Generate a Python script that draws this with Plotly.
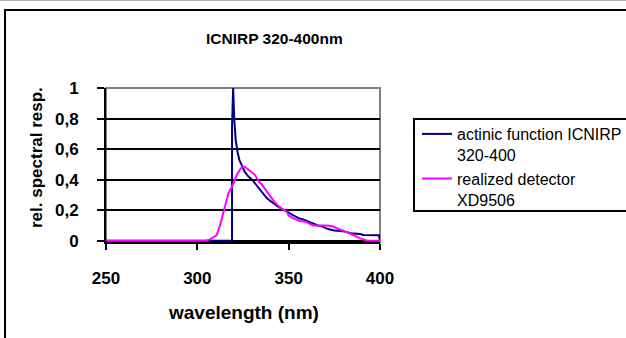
import plotly.graph_objects as go

# ---- data ----
wl_actinic = [250, 319.0, 319.0, 319.6, 320.2, 321.0, 322.0, 323.0, 324.5, 326.0, 328.0, 330.0,
              332.0, 334.0, 336.0, 338.0, 340.0, 342.0, 344.0, 346.0, 348.0, 350.0, 352.0,
              354.0, 356.0, 358.0, 360.0, 362.0, 364.0, 366.0, 368.0, 370.0, 372.0, 375.0,
              378.0, 381.0, 384.0, 387.0, 389.0, 391.0, 395.0, 399.4, 400.0]
resp_actinic = [0, 0, 0.75, 1.0, 0.80, 0.66, 0.58, 0.53, 0.49, 0.45, 0.42, 0.40,
                0.37, 0.34, 0.31, 0.28, 0.26, 0.24, 0.225, 0.21, 0.20, 0.185, 0.17,
                0.155, 0.145, 0.14, 0.13, 0.12, 0.105, 0.10, 0.095, 0.085, 0.075, 0.068,
                0.066, 0.06, 0.05, 0.048, 0.044, 0.038, 0.037, 0.037, 0.0]

wl_detector = [250, 305.0, 307.5, 310.6, 312.4, 313.8, 315.1, 317.0, 319.2, 321.5, 323.0,
               324.5, 326.0, 328.8, 331.6, 333.5, 335.2, 337.0, 338.8, 340.6, 342.5, 344.3,
               346.2, 348.9, 350.0, 352.0, 354.0, 356.0, 359.0, 361.0, 363.5, 367.0, 371.0,
               374.0, 375.5, 377.2, 380.0, 383.6, 386.3, 389.0, 391.8, 393.0, 400.0]
resp_detector = [0, 0, 0.012, 0.037, 0.10, 0.16, 0.23, 0.31, 0.36, 0.43, 0.46,
                 0.485, 0.485, 0.46, 0.43, 0.39, 0.37, 0.34, 0.31, 0.28, 0.25, 0.23,
                 0.21, 0.19, 0.165, 0.15, 0.14, 0.13, 0.125, 0.115, 0.10, 0.10, 0.10,
                 0.095, 0.085, 0.077, 0.066, 0.05, 0.033, 0.016, 0.005, 0.0, 0.0]

series_names = ["actinic function ICNIRP<br>320-400", "realized detector<br>XD9506"]
x_ticks = [250, 300, 350, 400]
y_ticks = [0, 0.2, 0.4, 0.6, 0.8, 1.0]
y_ticktext = ["0", "0,2", "0,4", "0,6", "0,8", "1"]
title_text = "ICNIRP 320-400nm"
x_title = "wavelength (nm)"
y_title = "rel. spectral resp."

# ---- layout geometry (pixels) ----
W, H = 626, 338
PL, PR, PT, PB = 106, 380, 88, 242  # plot area edges


def px(x):
    return (x - PL) / (PR - PL)


def py(y):
    return (PB - y) / (PB - PT)


FONT = "Liberation Sans, Arial, sans-serif"

fig = go.Figure()
fig.add_trace(go.Scatter(x=wl_actinic, y=resp_actinic, mode="lines", name=series_names[0],
                         line=dict(color="#000080", width=2)))
fig.add_trace(go.Scatter(x=wl_detector, y=resp_detector, mode="lines", name=series_names[1],
                         line=dict(color="#FF00FF", width=2)))

shapes = [
    # outer chart frame (extends beyond the window on right/bottom)
    dict(type="rect", xref="paper", yref="paper", x0=px(5), x1=px(660), y0=py(370), y1=py(10),
         line=dict(color="black", width=2), fillcolor="rgba(0,0,0,0)", layer="below"),
    # faint line at top of image
    dict(type="line", xref="paper", yref="paper", x0=px(0), x1=px(626), y0=py(0.5), y1=py(0.5),
         line=dict(color="#b0b0b0", width=1)),
    # grey plot-area border (top/right)
    dict(type="rect", xref="paper", yref="paper", x0=0, x1=1, y0=0, y1=1,
         line=dict(color="#808080", width=2), layer="below"),
    # legend box
    dict(type="rect", xref="paper", yref="paper", x0=px(414), x1=px(660), y0=py(211), y1=py(119),
         line=dict(color="black", width=2), fillcolor="rgba(0,0,0,0)"),
]

annotations = [
    dict(text="<b>%s</b>" % title_text, xref="paper", yref="paper", x=px(274), y=py(38),
         xanchor="center", yanchor="middle", showarrow=False,
         font=dict(family=FONT, size=15.5, color="black")),
    dict(text="<b>%s</b>" % x_title, xref="paper", yref="paper", x=px(243), y=py(312),
         xanchor="center", yanchor="middle", showarrow=False,
         font=dict(family=FONT, size=19, color="black")),
    dict(text="<b>%s</b>" % y_title, xref="paper", yref="paper", x=px(36), y=py(158),
         xanchor="center", yanchor="middle", showarrow=False, textangle=-90,
         font=dict(family=FONT, size=17, color="black")),
]

fig.update_layout(
    width=W, height=H,
    margin=dict(l=PL, r=W - PR, t=PT, b=H - PB, pad=0, autoexpand=False),
    paper_bgcolor="white", plot_bgcolor="white",
    showlegend=True,
    legend=dict(x=px(417), y=py(117), xanchor="left", yanchor="top",
                bgcolor="rgba(0,0,0,0)", borderwidth=0, valign="top",
                font=dict(family=FONT, size=16, color="black"),
                itemwidth=30, tracegroupgap=0),
    shapes=shapes,
    annotations=annotations,
    font=dict(family=FONT, color="black"),
)

fig.update_xaxes(range=[250, 400], tickvals=x_ticks, ticktext=[str(v) for v in x_ticks],
                 showgrid=False, zeroline=False, showline=True, linecolor="black", linewidth=2,
                 ticks="outside", ticklen=6, tickwidth=2, tickcolor="black",
                 ticklabelstandoff=14, layer="below traces",
                 tickfont=dict(family=FONT, size=17, color="black", weight="bold"))
fig.update_yaxes(range=[-0.008, 1], tickvals=y_ticks, ticktext=y_ticktext,
                 showgrid=True, gridcolor="black", gridwidth=1.5, zeroline=False,
                 showline=True, linecolor="black", linewidth=2,
                 ticks="outside", ticklen=7, tickwidth=2, tickcolor="black",
                 ticklabelstandoff=15, layer="below traces",
                 tickfont=dict(family=FONT, size=17, color="black", weight="bold"))

fig.write_html("out.html")
